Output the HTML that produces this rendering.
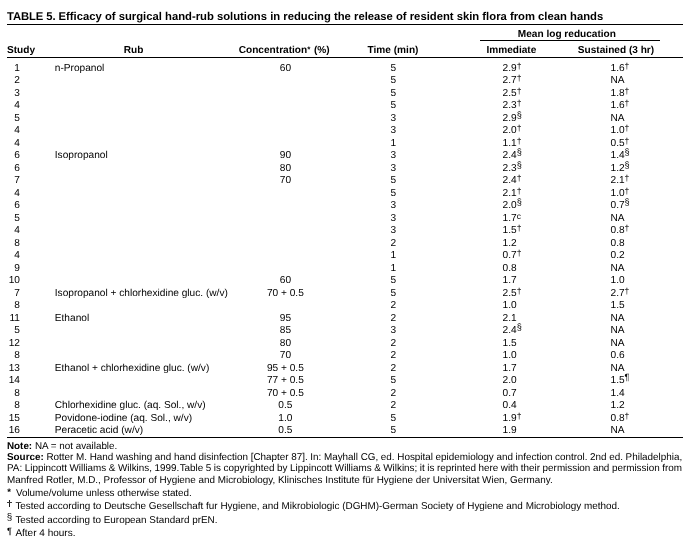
<!DOCTYPE html>
<html><head><meta charset="utf-8"><title>Table 5</title>
<style>
html,body{margin:0;padding:0;background:#fff;}
html{filter:grayscale(1);text-rendering:geometricPrecision;}
body{width:696px;height:549px;position:relative;overflow:hidden;font-family:"Liberation Sans",sans-serif;color:#000;font-size:10.15px;line-height:12px;}
.a{position:absolute;white-space:nowrap;}
.t{font-size:11.28px;font-weight:bold;left:7px;top:10px;line-height:14px;}
.h{font-weight:bold;font-size:10.1px;}
.ln{position:absolute;background:#000;height:1px;}
.c{text-align:center;}
.r{text-align:right;}
sup{font-size:8.4px;line-height:0;vertical-align:baseline;position:relative;top:-3.5px;}
sup.d{font-size:8.6px;top:-2.2px;}
sup.s2{font-size:9.2px;top:-3.2px;}
sup.p2{font-size:9px;top:-3.2px;}
sup.c2{font-size:8.4px;top:-2.2px;}
.row{position:absolute;left:0;width:696px;height:12px;}
.row span{position:absolute;top:0;white-space:nowrap;}
.s{left:0;width:20px;text-align:right;}
.rb{left:54.8px;}
.cn{left:235.4px;width:100px;text-align:center;}
.tm{left:343.4px;width:100px;text-align:center;}
.im{left:502.6px;}
.su{left:610.5px;}
.f{position:absolute;left:7px;white-space:nowrap;font-size:9.82px;line-height:12px;}
.mk{display:inline-block;font-size:8.5px;position:relative;top:-2px;}
</style></head><body>

<div class="a t"><span style="letter-spacing:-0.09px">TABLE 5. </span>Efficacy of surgical hand-rub solutions in reducing the release of resident skin flora from clean hands</div>
<div class="ln" style="left:7px;top:24px;width:676px"></div>
<div class="a h c" style="left:466.9px;width:200px;top:29px">Mean log reducation</div>
<div class="ln" style="left:480px;top:40px;width:180px"></div>
<div class="a h" style="left:7px;top:45px">Study</div>
<div class="a h c" style="left:83.6px;width:100px;top:45px">Rub</div>
<div class="a h c" style="left:234.2px;width:100px;top:45px">Concentration<span style="font-size:8px;position:relative;top:-1.4px;margin-right:0.8px">*</span> (%)</div>
<div class="a h c" style="left:343px;width:100px;top:45px">Time (min)</div>
<div class="a h c" style="left:461.4px;width:100px;top:45px">Immediate</div>
<div class="a h c" style="left:566px;width:100px;top:45px">Sustained (3 hr)</div>
<div class="ln" style="left:7px;top:57px;width:676px"></div>
<div class="row" style="top:62.90px"><span class="s">1</span><span class="rb">n-Propanol</span><span class="cn">60</span><span class="tm">5</span><span class="im">2.9<sup class="d">†</sup></span><span class="su">1.6<sup class="d">†</sup></span></div>
<div class="row" style="top:74.90px"><span class="s">2</span><span class="tm">5</span><span class="im">2.7<sup class="d">†</sup></span><span class="su">NA</span></div>
<div class="row" style="top:87.90px"><span class="s">3</span><span class="tm">5</span><span class="im">2.5<sup class="d">†</sup></span><span class="su">1.8<sup class="d">†</sup></span></div>
<div class="row" style="top:99.90px"><span class="s">4</span><span class="tm">5</span><span class="im">2.3<sup class="d">†</sup></span><span class="su">1.6<sup class="d">†</sup></span></div>
<div class="row" style="top:112.90px"><span class="s">5</span><span class="tm">3</span><span class="im">2.9<sup class="s2">§</sup></span><span class="su">NA</span></div>
<div class="row" style="top:124.90px"><span class="s">4</span><span class="tm">3</span><span class="im">2.0<sup class="d">†</sup></span><span class="su">1.0<sup class="d">†</sup></span></div>
<div class="row" style="top:137.90px"><span class="s">4</span><span class="tm">1</span><span class="im">1.1<sup class="d">†</sup></span><span class="su">0.5<sup class="d">†</sup></span></div>
<div class="row" style="top:149.90px"><span class="s">6</span><span class="rb">Isopropanol</span><span class="cn">90</span><span class="tm">3</span><span class="im">2.4<sup class="s2">§</sup></span><span class="su">1.4<sup class="s2">§</sup></span></div>
<div class="row" style="top:162.90px"><span class="s">6</span><span class="cn">80</span><span class="tm">3</span><span class="im">2.3<sup class="s2">§</sup></span><span class="su">1.2<sup class="s2">§</sup></span></div>
<div class="row" style="top:174.90px"><span class="s">7</span><span class="cn">70</span><span class="tm">5</span><span class="im">2.4<sup class="d">†</sup></span><span class="su">2.1<sup class="d">†</sup></span></div>
<div class="row" style="top:187.90px"><span class="s">4</span><span class="tm">5</span><span class="im">2.1<sup class="d">†</sup></span><span class="su">1.0<sup class="d">†</sup></span></div>
<div class="row" style="top:199.90px"><span class="s">6</span><span class="tm">3</span><span class="im">2.0<sup class="s2">§</sup></span><span class="su">0.7<sup class="s2">§</sup></span></div>
<div class="row" style="top:212.90px"><span class="s">5</span><span class="tm">3</span><span class="im">1.7<sup class="c2">c</sup></span><span class="su">NA</span></div>
<div class="row" style="top:224.90px"><span class="s">4</span><span class="tm">3</span><span class="im">1.5<sup class="d">†</sup></span><span class="su">0.8<sup class="d">†</sup></span></div>
<div class="row" style="top:237.90px"><span class="s">8</span><span class="tm">2</span><span class="im">1.2</span><span class="su">0.8</span></div>
<div class="row" style="top:249.90px"><span class="s">4</span><span class="tm">1</span><span class="im">0.7<sup class="d">†</sup></span><span class="su">0.2</span></div>
<div class="row" style="top:262.90px"><span class="s">9</span><span class="tm">1</span><span class="im">0.8</span><span class="su">NA</span></div>
<div class="row" style="top:274.90px"><span class="s">10</span><span class="cn">60</span><span class="tm">5</span><span class="im">1.7</span><span class="su">1.0</span></div>
<div class="row" style="top:287.90px"><span class="s">7</span><span class="rb">Isopropanol + chlorhexidine gluc. (w/v)</span><span class="cn">70 + 0.5</span><span class="tm">5</span><span class="im">2.5<sup class="d">†</sup></span><span class="su">2.7<sup class="d">†</sup></span></div>
<div class="row" style="top:299.90px"><span class="s">8</span><span class="tm">2</span><span class="im">1.0</span><span class="su">1.5</span></div>
<div class="row" style="top:312.90px"><span class="s">11</span><span class="rb">Ethanol</span><span class="cn">95</span><span class="tm">2</span><span class="im">2.1</span><span class="su">NA</span></div>
<div class="row" style="top:324.90px"><span class="s">5</span><span class="cn">85</span><span class="tm">3</span><span class="im">2.4<sup class="s2">§</sup></span><span class="su">NA</span></div>
<div class="row" style="top:337.90px"><span class="s">12</span><span class="cn">80</span><span class="tm">2</span><span class="im">1.5</span><span class="su">NA</span></div>
<div class="row" style="top:349.90px"><span class="s">8</span><span class="cn">70</span><span class="tm">2</span><span class="im">1.0</span><span class="su">0.6</span></div>
<div class="row" style="top:362.90px"><span class="s">13</span><span class="rb">Ethanol + chlorhexidine gluc. (w/v)</span><span class="cn">95 + 0.5</span><span class="tm">2</span><span class="im">1.7</span><span class="su">NA</span></div>
<div class="row" style="top:374.90px"><span class="s">14</span><span class="cn">77 + 0.5</span><span class="tm">5</span><span class="im">2.0</span><span class="su">1.5<sup class="p2">¶</sup></span></div>
<div class="row" style="top:387.90px"><span class="s">8</span><span class="cn">70 + 0.5</span><span class="tm">2</span><span class="im">0.7</span><span class="su">1.4</span></div>
<div class="row" style="top:399.90px"><span class="s">8</span><span class="rb">Chlorhexidine gluc. (aq. Sol., w/v)</span><span class="cn">0.5</span><span class="tm">2</span><span class="im">0.4</span><span class="su">1.2</span></div>
<div class="row" style="top:412.90px"><span class="s">15</span><span class="rb">Povidone-iodine (aq. Sol., w/v)</span><span class="cn">1.0</span><span class="tm">5</span><span class="im">1.9<sup class="d">†</sup></span><span class="su">0.8<sup class="d">†</sup></span></div>
<div class="row" style="top:424.90px"><span class="s">16</span><span class="rb">Peracetic acid (w/v)</span><span class="cn">0.5</span><span class="tm">5</span><span class="im">1.9</span><span class="su">NA</span></div>
<div class="ln" style="left:7px;top:437px;width:676px"></div>
<div class="f" style="top:440.75px;font-size:9.85px;word-spacing:0px"><b>Note:</b> NA = not available.</div>
<div class="f" style="top:451.75px;font-size:9.9px;word-spacing:-0.08px"><b>Source:</b> Rotter M. Hand washing and hand disinfection [Chapter 87]. In: Mayhall CG, ed. Hospital epidemiology and infection control. 2nd ed. Philadelphia,</div>
<div class="f" style="top:462.75px;font-size:9.9px;word-spacing:-0.21px">PA: Lippincott Williams &amp; Wilkins, 1999.<span style="margin-left:0.5px"></span>Table 5 is copyrighted by Lippincott Williams &amp; Wilkins; it is reprinted here with their permission and permission from</div>
<div class="f" style="top:474.75px;font-size:9.9px;word-spacing:0px">Manfred Rotler, M.D., Professor of Hygiene and Microbiology, Klinisches Institute für Hygiene der Universitat Wien, Germany.</div>
<div class="f" style="left:7.15px;top:487.3px;font-size:9.5px;font-weight:bold">*</div>
<div class="f" style="left:15.9px;top:488px;font-size:9.87px;word-spacing:0px">Volume/volume unless otherwise stated.</div>
<div style="position:absolute;left:9px;top:500px;width:1px;height:7.2px;background:#1a1a1a"></div><div style="position:absolute;left:7.1px;top:502px;width:4.7px;height:1px;background:#3a3a3a"></div>
<div class="f" style="left:15.4px;top:501px;font-size:9.92px;word-spacing:0.03px">Tested according to Deutsche Gesellschaft fur Hygiene, and Mikrobiologic (DGHM)-German Society of Hygiene and Microbiology method.</div>
<div class="f" style="left:6.65px;top:512px;font-size:9.8px">§</div>
<div class="f" style="left:15.4px;top:515px;font-size:9.9px;word-spacing:0px">Tested according to European Standard prEN.</div>
<div class="f" style="left:6.95px;top:525px;font-size:9.2px">¶</div>
<div class="f" style="left:15.4px;top:528px;font-size:10.0px;word-spacing:0px">After 4 hours.</div>
</body></html>
